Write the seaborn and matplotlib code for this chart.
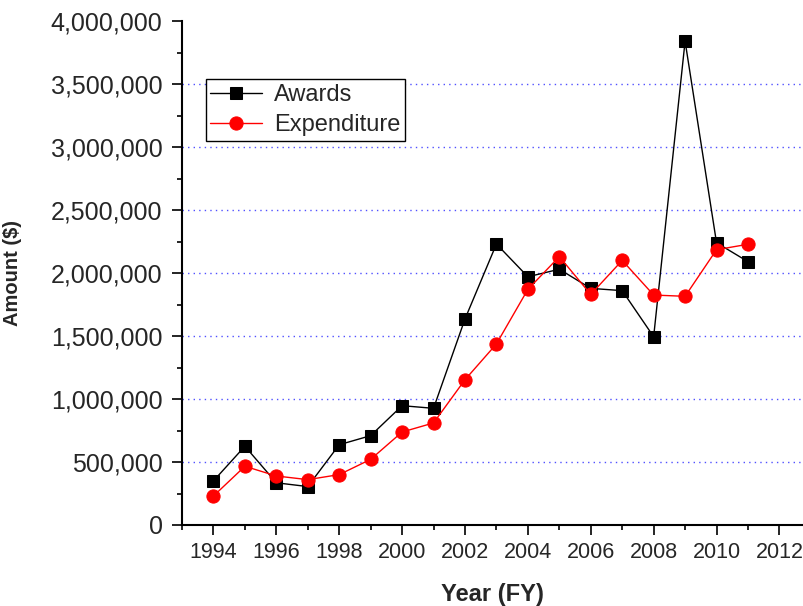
import matplotlib
matplotlib.use("Agg")
import matplotlib.pyplot as plt
import matplotlib.ticker as mticker
import pandas as pd
import seaborn as sns

years = list(range(1994, 2012))
awards = [350000, 625000, 335000, 305000, 637000, 709000, 947000, 926000, 1635000,
          2230000, 1970000, 2030000, 1878000, 1860000, 1494000, 3840000, 2240000, 2090000]
expenditure = [230000, 466000, 389000, 360000, 400000, 521000, 738000, 810000, 1153000,
               1437000, 1870000, 2130000, 1830000, 2100000, 1825000, 1815000, 2185000, 2228000]
x_ticks = list(range(1994, 2013, 2))
y_ticks = list(range(0, 4000001, 500000))

df = pd.DataFrame({"Year": years, "Awards": awards, "Expenditure": expenditure})

sns.set_style("ticks")
plt.rcParams["font.family"] = ["Liberation Sans", "DejaVu Sans"]

fig = plt.figure(figsize=(8.04, 6.06), dpi=100)
ax = fig.add_axes([182 / 804, 81 / 606, 621 / 804, 504 / 606])

sns.lineplot(data=df, x="Year", y="Awards", ax=ax, color="black", lw=1.0,
             marker="s", markersize=8, markeredgecolor="black", label="Awards")
sns.lineplot(data=df, x="Year", y="Expenditure", ax=ax, color="red", lw=1.0,
             marker="o", markersize=9.5, markeredgecolor="red", label="Expenditure")

ax.set_xlim(1993, 2012.75)
ax.set_ylim(0, 4000000)
ax.set_xticks(x_ticks)
ax.set_yticks(y_ticks)
ax.xaxis.set_minor_locator(mticker.MultipleLocator(1))
ax.yaxis.set_minor_locator(mticker.MultipleLocator(250000))
ax.yaxis.set_major_formatter(mticker.FuncFormatter(lambda v, p: f"{int(v):,}"))

ax.tick_params(axis="both", which="major", direction="out", length=7, width=1.2, color="black")
ax.tick_params(axis="both", which="minor", direction="out", length=3.5, width=1.2, color="black")
ax.tick_params(axis="x", labelsize=15.5, pad=5)
ax.tick_params(axis="y", labelsize=18, pad=7)

for side in ["top", "right"]:
    ax.spines[side].set_visible(False)
for side in ["left", "bottom"]:
    ax.spines[side].set_linewidth(1.5)
    ax.spines[side].set_color("black")

ax.grid(axis="y", color="#5050ff", linestyle=(0, (1, 3)), linewidth=1.0)
ax.get_ygridlines()[0].set_visible(False)
ax.get_ygridlines()[-1].set_visible(False)

ax.set_xlabel("Year (FY)", fontsize=17, fontweight="bold")
ax.set_ylabel("Amount ($)", fontsize=14.5, fontweight="bold")
ax.xaxis.set_label_coords(0.5, -0.115)
ax.yaxis.set_label_coords(-0.258, 0.5)

leg = ax.legend(loc="upper left", bbox_to_anchor=(0.038, 0.884), borderaxespad=0,
                fontsize=17, frameon=True, fancybox=False, handlelength=2.2,
                handletextpad=0.5, borderpad=0.2, labelspacing=0.35)
leg.get_frame().set_edgecolor("black")
leg.get_frame().set_linewidth(1.0)
leg.get_frame().set_alpha(1)

plt.savefig("out.png", dpi=100, facecolor="w")
plt.close()
